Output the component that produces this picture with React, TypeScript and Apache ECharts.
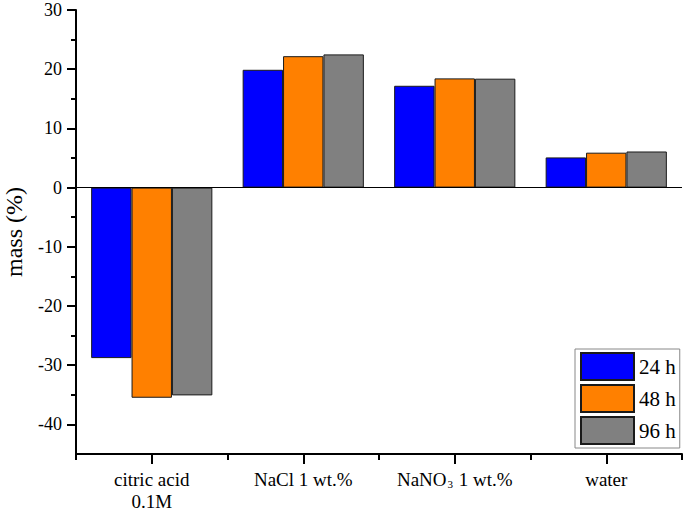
import React, { useEffect, useRef } from "react";
import * as echarts from "echarts";

const categories = ["citric acid\n0.1M", "NaCl 1 wt.%", "NaNO3 1 wt.%", "water"];
const seriesNames = ["24 h", "48 h", "96 h"];
const values24h = [-28.8, 19.9, 17.2, 5.1];
const values48h = [-35.5, 22.2, 18.45, 5.9];
const values96h = [-35.1, 22.5, 18.4, 6.1];
const colors = ["#0000FF", "#FF8000", "#808080"];
const majorTicks = [-40, -30, -20, -10, 0, 10, 20, 30];
const minorTicks = [-35, -25, -15, -5, 5, 15, 25];
const yMin = -45;
const yMax = 30;

const FONT = "'Times New Roman', 'Liberation Serif', serif";

export default function App() {
  const ref = useRef<HTMLDivElement>(null);
  useEffect(() => {
    if (!ref.current) return;
    const chart = echarts.init(ref.current, undefined, { renderer: "svg" });
    const data = [values24h, values48h, values96h];
    const axisLine = { show: true, lineStyle: { color: "#000", width: 2 } };
    chart.setOption({
      animation: false,
      backgroundColor: "#fff",
      textStyle: { fontFamily: FONT },
      grid: { left: 76, right: 3, top: 10, bottom: 58, containLabel: false, outerBoundsMode: "none" },
      legend: {
        left: 575,
        top: 349,
        orient: "vertical",
        data: seriesNames,
        icon: "rect",
        itemWidth: 53,
        itemHeight: 27,
        itemGap: 3,
        padding: [3, 4, 3, 5],
        borderColor: "#888",
        borderWidth: 1,
        backgroundColor: "#fff",
        textStyle: { fontFamily: FONT, fontSize: 21, color: "#000" },
      },
      xAxis: [
        {
          type: "category",
          data: categories,
          position: "bottom",
          axisLine: { ...axisLine, onZero: false },
          axisTick: { show: true, alignWithLabel: true, length: 10, lineStyle: { color: "#000", width: 2 } },
          axisLabel: {
            fontFamily: FONT,
            fontSize: 19,
            color: "#000",
            margin: 14,
            lineHeight: 22,
            interval: 0,
            formatter: (v: string) => (v === "NaNO3 1 wt.%" ? "{a|NaNO}{s|3}{a| 1 wt.%}" : v),
            rich: {
              a: { fontFamily: FONT, fontSize: 19, color: "#000" },
              s: { fontFamily: FONT, fontSize: 11, color: "#000", padding: [10, 1, 0, 1] },
            },
          },
          splitLine: { show: false },
        },
        {
          type: "category",
          data: categories,
          position: "bottom",
          offset: 0,
          axisLine: { show: false, onZero: false },
          axisTick: { show: true, alignWithLabel: false, length: 6, lineStyle: { color: "#000", width: 2 } },
          axisLabel: { show: false },
          splitLine: { show: false },
        },
      ],
      yAxis: [
        {
          type: "value",
          min: yMin,
          max: yMax,
          position: "left",
          name: "mass (%)",
          nameLocation: "middle",
          nameGap: 50,
          nameTextStyle: { fontFamily: FONT, fontSize: 24, color: "#000" },
          axisLine,
          axisTick: { show: true, length: 9, customValues: majorTicks, lineStyle: { color: "#000", width: 2 } },
          axisLabel: {
            customValues: majorTicks,
            fontFamily: FONT,
            fontSize: 18,
            color: "#000",
            margin: 14,
          },
          splitLine: { show: false },
        },
        {
          type: "value",
          min: yMin,
          max: yMax,
          position: "left",
          offset: 0,
          axisLine: { show: false },
          axisTick: { show: true, length: 5, customValues: minorTicks, lineStyle: { color: "#000", width: 2 } },
          axisLabel: { show: false },
          splitLine: { show: false },
        },
      ],
      series: seriesNames.map((name, i) => ({
        name,
        type: "bar",
        xAxisIndex: 0,
        yAxisIndex: 0,
        data: data[i],
        barGap: "0%",
        barCategoryGap: "20%",
        itemStyle: { color: colors[i], borderColor: "#1a1a1a", borderWidth: 1 },
        ...(i === 0
          ? {
              markLine: {
                silent: true,
                symbol: "none",
                label: { show: false },
                lineStyle: { color: "#000", width: 1, type: "solid" },
                data: [{ yAxis: 0 }],
              },
            }
          : {}),
      })),
    });
    return () => chart.dispose();
  }, []);
  return (
    <div
      ref={ref}
      style={{ position: "fixed", left: 0, top: 0, width: 685, height: 512, background: "#fff" }}
    />
  );
}
